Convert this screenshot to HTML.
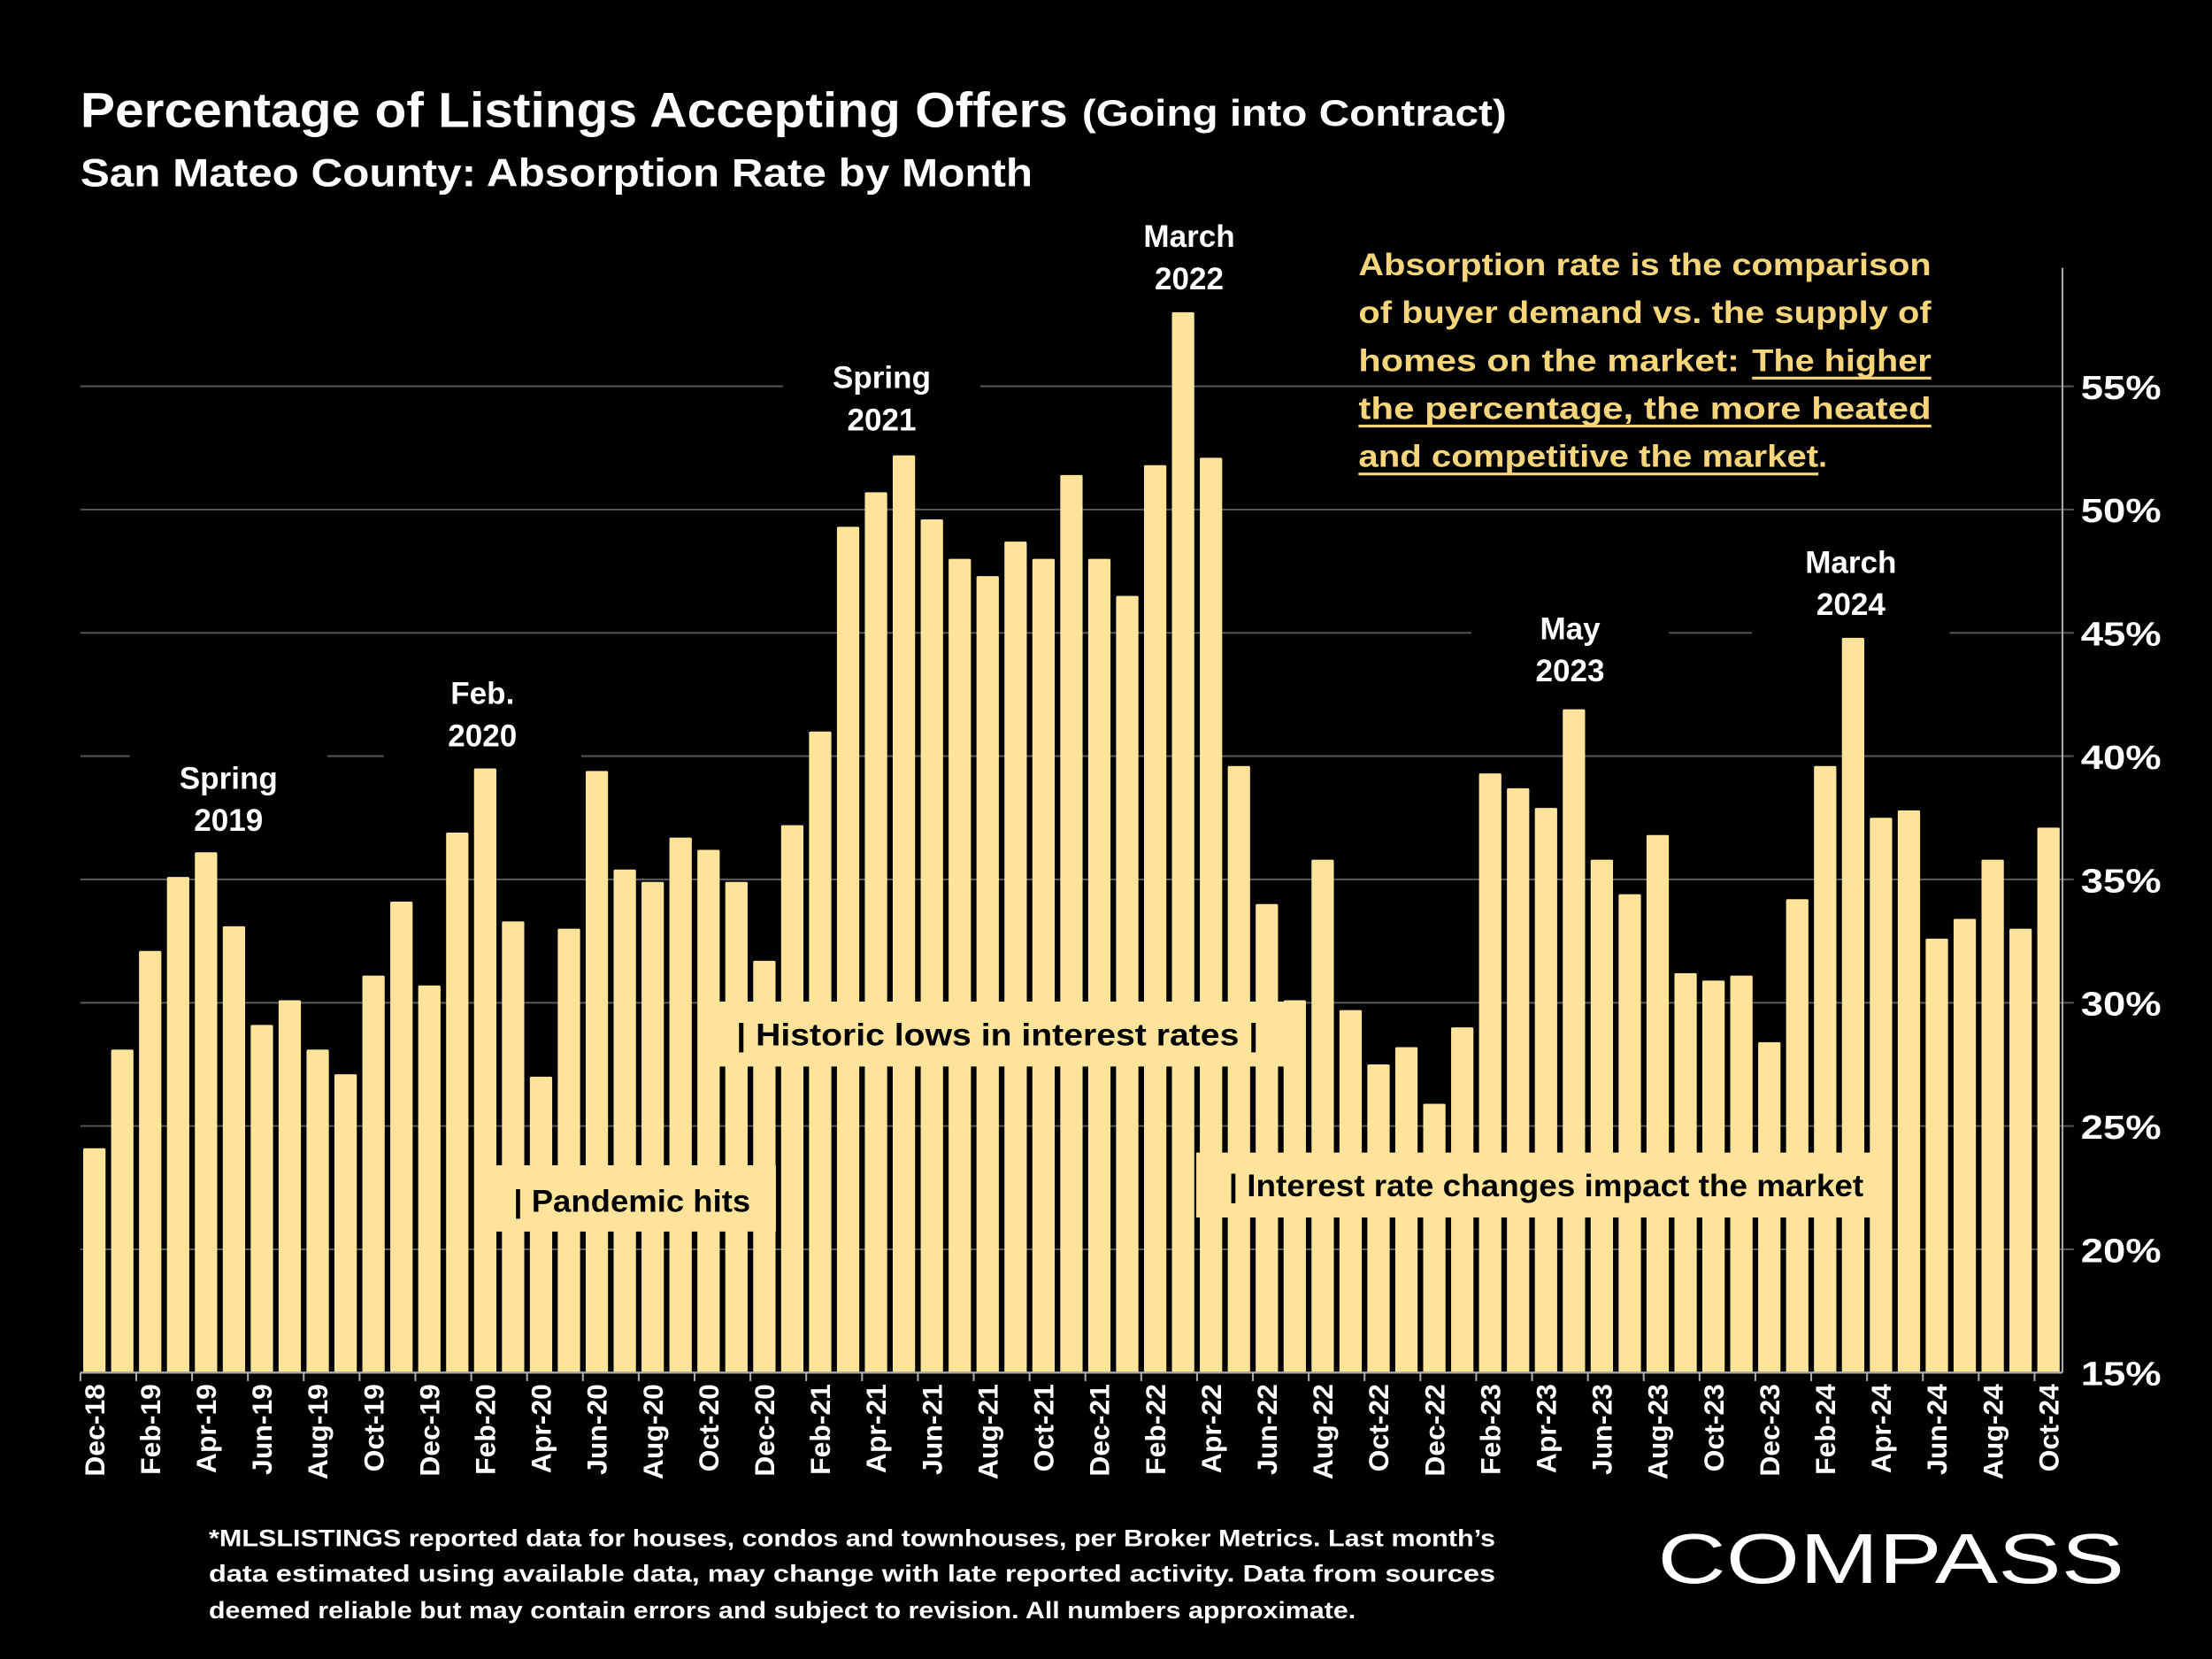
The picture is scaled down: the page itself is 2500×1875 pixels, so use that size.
<!DOCTYPE html>
<html><head><meta charset="utf-8"><style>
html,body{margin:0;padding:0;background:#000;width:2500px;height:1875px;overflow:hidden}
svg{display:block}
text{font-family:"Liberation Sans",sans-serif;font-weight:bold}
</style></head><body>
<svg id="chart" width="2500" height="1875" viewBox="0 0 1568 1176" preserveAspectRatio="none" xmlns="http://www.w3.org/2000/svg">
<rect width="1568" height="1176" fill="#000"/>
<text x="57" y="90" fill="#fff" font-size="35" textLength="700" lengthAdjust="spacingAndGlyphs">Percentage of Listings Accepting Offers</text>
<text x="767" y="89" fill="#fff" font-size="26" textLength="301" lengthAdjust="spacingAndGlyphs">(Going into Contract)</text>
<text x="57" y="132" fill="#fff" font-size="28" textLength="675" lengthAdjust="spacingAndGlyphs">San Mateo County:  Absorption Rate by Month</text>
<g id="grid"></g>
<g id="bars"></g>
<g id="axes"></g>
<g id="notes"></g>
<g fill="#f7d57a" font-size="22">
<text x="963" y="195" textLength="406" lengthAdjust="spacingAndGlyphs">Absorption rate is the comparison</text>
<text x="963" y="229" textLength="406" lengthAdjust="spacingAndGlyphs">of buyer demand vs. the supply of</text>
<text x="963" y="263" textLength="270" lengthAdjust="spacingAndGlyphs">homes on the market:</text>
<text x="1242" y="263" textLength="127" lengthAdjust="spacingAndGlyphs">The higher</text>
<text x="963" y="297" textLength="406" lengthAdjust="spacingAndGlyphs">the percentage, the more heated</text>
<text x="963" y="331" textLength="326" lengthAdjust="spacingAndGlyphs">and competitive the market</text>
<text x="1289" y="331">.</text>
<rect x="1242" y="267" width="127" height="2"/>
<rect x="963" y="301" width="406" height="2"/>
<rect x="963" y="335" width="326" height="2"/>
</g>
<g fill="#fff" font-size="17">
<text x="148" y="1096" textLength="912" lengthAdjust="spacingAndGlyphs">*MLSLISTINGS reported data for houses, condos and townhouses, per Broker Metrics. Last month’s</text>
<text x="148" y="1121" textLength="912" lengthAdjust="spacingAndGlyphs">data estimated using available data, may change with late reported activity. Data from sources</text>
<text x="148" y="1147" textLength="813" lengthAdjust="spacingAndGlyphs">deemed reliable but may contain errors and subject to revision. All numbers approximate.</text>
</g>
<text x="1175" y="1122" fill="#fff" font-size="50" style="font-weight:normal" textLength="331" lengthAdjust="spacingAndGlyphs">COMPASS</text>
</svg>
<script>
const months = ["Dec-18","Jan-19","Feb-19","Mar-19","Apr-19","May-19","Jun-19","Jul-19","Aug-19","Sep-19","Oct-19","Nov-19","Dec-19","Jan-20","Feb-20","Mar-20","Apr-20","May-20","Jun-20","Jul-20","Aug-20","Sep-20","Oct-20","Nov-20","Dec-20","Jan-21","Feb-21","Mar-21","Apr-21","May-21","Jun-21","Jul-21","Aug-21","Sep-21","Oct-21","Nov-21","Dec-21","Jan-22","Feb-22","Mar-22","Apr-22","May-22","Jun-22","Jul-22","Aug-22","Sep-22","Oct-22","Nov-22","Dec-22","Jan-23","Feb-23","Mar-23","Apr-23","May-23","Jun-23","Jul-23","Aug-23","Sep-23","Oct-23","Nov-23","Dec-23","Jan-24","Feb-24","Mar-24","Apr-24","May-24","Jun-24","Jul-24","Aug-24","Sep-24","Oct-24"];
const rates = [24.1,28.1,32.1,35.1,36.1,33.1,29.1,30.1,28.1,27.1,31.1,34.1,30.7,36.9,39.5,33.3,27.0,33.0,39.4,35.4,34.9,36.7,36.2,34.9,31.7,37.2,41.0,49.3,50.7,52.2,49.6,48.0,47.3,48.7,48.0,51.4,48.0,46.5,51.8,58.0,52.1,39.6,34.0,30.1,35.8,29.7,27.5,28.2,25.9,29.0,39.3,38.7,37.9,41.9,35.8,34.4,36.8,31.2,30.9,31.1,28.4,34.2,39.6,44.8,37.5,37.8,32.6,33.4,35.8,33.0,37.1];
const yTicks = [15,20,25,30,35,40,45,50,55];
const NS="http://www.w3.org/2000/svg";
const X0=57,X1=1462,Y0=973,YMIN=15,PER=17.48;
const step=(X1-X0)/months.length;
function xc(i){return X0+step*(i+0.5);}
function yv(v){return Y0-(v-YMIN)*PER;}
function mk(tag,attrs,parent){const e=document.createElementNS(NS,tag);for(const k in attrs)e.setAttribute(k,attrs[k]);parent.appendChild(e);return e;}
const grid=document.getElementById('grid'),bars=document.getElementById('bars'),axes=document.getElementById('axes'),notes=document.getElementById('notes');
yTicks.forEach(t=>{
  if(t>YMIN){const l=mk('line',{x1:X0,x2:X1+8,y1:yv(t),y2:yv(t),stroke:'#555','stroke-width':1.3},grid);
  
  }
  const tx=mk('text',{x:1475,y:yv(t)+9,fill:'#fff','font-size':24,textLength:57,lengthAdjust:'spacingAndGlyphs'},axes);
  tx.textContent=t+'%';
  
  
});
months.forEach((m,i)=>{
  const w=step*0.8;
  const r=mk('rect',{x:xc(i)-w/2,y:yv(rates[i]),width:w,height:Y0-yv(rates[i]),fill:'#fde49a',rx:1},bars);
  
  
  if(i%2===0){
    const tx=mk('text',{x:0,y:0,fill:'#fff','font-size':20,'text-anchor':'end',transform:`translate(${xc(i)+7},981) rotate(-90)`},axes);
    tx.textContent=m;
    
    
    const tk=mk('line',{x1:xc(i)-step/2,x2:xc(i)-step/2,y1:Y0,y2:Y0+6,stroke:'#aaa','stroke-width':1.3},axes);
    
    
  }
});
const base=mk('line',{x1:X0,x2:X1,y1:Y0,y2:Y0,stroke:'#aaa','stroke-width':1.5},axes);


const vax=mk('line',{x1:X1,x2:X1,y1:190,y2:Y0,stroke:'#aaa','stroke-width':1.3},axes);


const peaks=[["Spring","2019",162,559,"spring-2019-label"],["Feb.","2020",342,499,"feb-2020-label"],["Spring","2021",625,275,"spring-2021-label"],["March","2022",843,175,"march-2022-label"],["May","2023",1113,453,"may-2023-label"],["March","2024",1312,406,"march-2024-label"]];
peaks.forEach(p=>{
  const g=mk('g',{},notes);
  
  
  mk('rect',{x:p[2]-70,y:p[3]-26,width:140,height:70,fill:'#000'},g);
  const a=mk('text',{x:p[2],y:p[3],fill:'#fff','font-size':22,'text-anchor':'middle'},g);a.textContent=p[0];
  const b=mk('text',{x:p[2],y:p[3]+30,fill:'#fff','font-size':22,'text-anchor':'middle'},g);b.textContent=p[1];
});
const boxes=[[505,710,415,46,"|  Historic lows in interest rates  |","historic-lows-box",522,741,370],[350,826,200,47,"| Pandemic hits","pandemic-box",364,859,168],[848,817,492,46,"| Interest rate changes impact the market","rate-changes-box",871,848,450]];
boxes.forEach(b=>{
  const g=mk('g',{},notes);
  
  
  mk('rect',{x:b[0],y:b[1],width:b[2],height:b[3],fill:'#fde49a'},g);
  const t=mk('text',{x:b[6],y:b[7],fill:'#000','font-size':22,textLength:b[8],lengthAdjust:'spacingAndGlyphs'},g);t.textContent=b[4];
});
</script>
</body></html>
